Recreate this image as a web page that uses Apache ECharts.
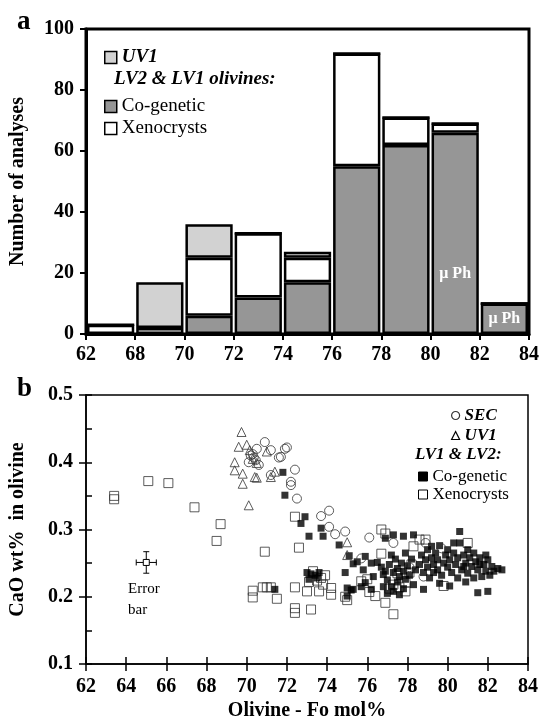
<!DOCTYPE html>
<html>
<head>
<meta charset="utf-8">
<script src="https://cdn.jsdelivr.net/npm/echarts@6/dist/echarts.min.js"></script>
<style>
html, body { margin: 0; padding: 0; background: #fff; }
#main { width: 542px; height: 727px; }
</style>
</head>
<body>
<div id="main"></div>
<script>
// panel a: histogram, bins 62-68, 68-70 ... 82-84
var binEdges = ['62', '68', '70', '72', '74', '76', '78', '80', '82', '84'];
var binNames = ['62-68', '68-70', '70-72', '72-74', '74-76', '76-78', '78-80', '80-82', '82-84'];
var cogeneticCounts = [0, 0, 6, 12, 17, 55, 62, 66, 10];
var xenocrystCounts = [3, 2, 19, 21, 8, 37, 9, 3, 0];
var uv1Counts = [0, 15, 11, 0, 2, 0, 0, 0, 0];
var muPhBins = [7, 8];

// panel b: CaO vs Fo
var secPoints = [
  [70.9, 0.430], [70.5, 0.420], [71.2, 0.418], [71.6, 0.407], [71.9, 0.420], [70.35, 0.407],
  [70.1, 0.400], [70.6, 0.396], [70.3, 0.412], [70.2, 0.410], [70.45, 0.403], [71.2, 0.381],
  [72.2, 0.371], [72.2, 0.366], [72.4, 0.389], [72.5, 0.346], [72.0, 0.422], [71.7, 0.408],
  [73.7, 0.320], [74.1, 0.328], [74.1, 0.304], [74.4, 0.293], [74.9, 0.297], [75.7, 0.257],
  [76.1, 0.288], [77.3, 0.280], [78.1, 0.244], [78.8, 0.230], [78.9, 0.280], [79.7, 0.272]
];
var uv1Points = [
  [69.74, 0.445], [69.6, 0.423], [70.0, 0.426], [70.15, 0.418], [69.4, 0.400], [69.4, 0.388],
  [69.8, 0.383], [69.8, 0.368], [70.4, 0.378], [70.1, 0.336], [70.5, 0.399], [70.3, 0.405],
  [71.0, 0.416], [71.2, 0.378], [71.4, 0.386], [70.5, 0.377], [75.0, 0.281], [75.0, 0.262]
];
var cogeneticPoints = [
  [71.8, 0.385], [71.9, 0.351], [72.9, 0.319], [72.7, 0.309], [73.1, 0.290], [73.8, 0.290],
  [73.7, 0.302], [74.6, 0.277], [75.1, 0.261], [75.3, 0.249], [75.5, 0.252], [75.9, 0.260],
  [74.9, 0.236], [73.0, 0.236], [73.2, 0.234], [73.4, 0.232], [73.6, 0.236], [73.1, 0.226],
  [73.5, 0.228], [75.0, 0.213], [75.2, 0.210], [75.0, 0.201], [75.3, 0.211], [75.7, 0.215],
  [75.9, 0.221], [76.2, 0.211], [75.8, 0.240], [76.3, 0.230], [76.2, 0.250], [76.5, 0.251],
  [76.8, 0.233], [76.9, 0.287], [77.3, 0.292], [77.8, 0.290], [78.3, 0.292], [71.4, 0.211],
  [76.7, 0.244], [76.9, 0.238], [77.0, 0.225], [77.1, 0.248], [77.2, 0.215], [77.3, 0.236],
  [77.4, 0.256], [77.5, 0.222], [77.5, 0.242], [77.6, 0.230], [77.7, 0.250], [77.8, 0.212],
  [77.8, 0.238], [77.9, 0.226], [78.0, 0.246], [78.1, 0.232], [78.2, 0.256], [78.3, 0.218],
  [77.0, 0.205], [77.3, 0.208], [77.6, 0.203], [76.8, 0.215], [77.2, 0.262], [77.9, 0.265],
  [78.4, 0.240], [78.6, 0.248], [78.7, 0.262], [78.8, 0.236], [78.9, 0.255], [79.0, 0.270],
  [79.0, 0.244], [79.1, 0.228], [79.2, 0.258], [79.3, 0.248], [79.4, 0.265], [79.5, 0.240],
  [79.5, 0.255], [79.6, 0.276], [79.7, 0.232], [79.8, 0.250], [79.9, 0.262], [80.0, 0.244],
  [80.0, 0.270], [80.1, 0.255], [80.2, 0.236], [80.3, 0.265], [80.4, 0.248], [80.5, 0.258],
  [80.5, 0.228], [80.6, 0.297], [80.6, 0.280], [80.7, 0.240], [80.8, 0.262], [80.9, 0.250],
  [81.0, 0.235], [81.1, 0.258], [81.2, 0.245], [81.3, 0.265], [81.3, 0.228], [81.4, 0.252],
  [81.5, 0.240], [81.6, 0.258], [81.7, 0.230], [81.8, 0.248], [81.9, 0.238], [82.0, 0.255],
  [82.1, 0.232], [82.2, 0.245], [82.3, 0.238], [82.5, 0.242], [82.7, 0.240], [81.5, 0.206],
  [82.0, 0.208], [80.1, 0.216], [78.8, 0.211], [79.2, 0.275], [80.3, 0.280], [81.0, 0.270],
  [81.9, 0.262], [79.6, 0.220], [80.9, 0.222], [79.3, 0.236], [80.8, 0.245], [81.6, 0.248]
];
var xenocrystPoints = [
  [63.4, 0.350], [63.4, 0.345], [65.1, 0.372], [66.1, 0.369], [67.4, 0.333], [68.7, 0.308],
  [68.5, 0.283], [70.9, 0.267], [70.3, 0.209], [70.3, 0.199], [70.8, 0.214], [71.0, 0.214],
  [71.2, 0.214], [71.5, 0.197], [72.4, 0.214], [72.4, 0.319], [72.6, 0.273], [72.4, 0.183],
  [72.4, 0.176], [73.0, 0.208], [73.6, 0.208], [74.2, 0.213], [74.2, 0.203], [73.2, 0.181],
  [73.1, 0.222], [73.3, 0.238], [73.5, 0.224], [73.7, 0.228], [73.8, 0.218], [73.9, 0.232],
  [74.9, 0.200], [75.0, 0.195], [75.7, 0.223], [76.1, 0.207], [76.4, 0.201], [76.7, 0.264],
  [76.7, 0.300], [76.9, 0.294], [76.9, 0.191], [77.3, 0.174], [77.1, 0.212], [77.3, 0.218],
  [77.6, 0.214], [77.9, 0.208], [77.9, 0.221], [78.1, 0.236], [78.2, 0.248], [78.3, 0.275],
  [78.6, 0.285], [78.9, 0.285], [79.8, 0.216], [81.0, 0.280], [76.0, 0.226], [77.5, 0.235]
];
// x, y, half-width in Fo, half-height in CaO
var errorBar = [[65.0, 0.251, 0.5, 0.016]];

var serif = 'Liberation Serif';
var LIGHT = '#d2d2d2';
var MID = '#969696';

var chart = echarts.init(document.getElementById('main'));

function axisFont(size) {
  return { fontFamily: serif, fontSize: size, fontWeight: 'bold', color: '#000' };
}

var cogenData = cogeneticCounts.map(function (v, i) {
  if (muPhBins.indexOf(i) < 0) return v;
  return {
    value: v,
    label: {
      show: true,
      formatter: 'μ Ph',
      position: i === 7 ? 'insideBottom' : 'inside',
      distance: 52,
      color: '#fff',
      fontFamily: serif,
      fontWeight: 'bold',
      fontSize: 16
    }
  };
});

var barStyle = function (c) {
  return { color: c, borderColor: '#000', borderWidth: 2.5 };
};

var option = {
  animation: false,
  grid: [
    { left: 83, top: 29, right: 10, bottom: 393, show: true, borderColor: '#000', borderWidth: 3, backgroundColor: 'transparent' },
    { left: 83, top: 395, right: 14, bottom: 63, show: true, borderColor: '#000', borderWidth: 1.5, backgroundColor: 'transparent' }
  ],
  xAxis: [
    { type: 'category', gridIndex: 0, data: binNames, show: false },
    {
      type: 'value', gridIndex: 0, min: 0, max: 9, interval: 1, position: 'bottom',
      axisLine: { lineStyle: { color: '#000', width: 3 } },
      axisTick: { length: 6, lineStyle: { color: '#000', width: 2 } },
      axisLabel: Object.assign({ margin: 11, formatter: function (v) { return binEdges[v]; } }, axisFont(20)),
      splitLine: { show: false }
    },
    {
      type: 'value', gridIndex: 1, min: 62, max: 84, interval: 2, position: 'bottom',
      name: 'Olivine - Fo mol%', nameLocation: 'middle', nameGap: 37,
      nameTextStyle: axisFont(20),
      axisLine: { lineStyle: { color: '#000', width: 1.5 } },
      axisTick: { length: 7, lineStyle: { color: '#000', width: 1.5 } },
      axisLabel: Object.assign({ margin: 13 }, axisFont(20)),
      splitLine: { show: false }
    },
    {
      type: 'value', gridIndex: 1, min: 62, max: 84, interval: 2, position: 'bottom',
      axisLine: { show: false },
      axisTick: { inside: true, length: 7, lineStyle: { color: '#000', width: 1.5 } },
      axisLabel: { show: false },
      splitLine: { show: false }
    }
  ],
  yAxis: [
    {
      type: 'value', gridIndex: 0, min: 0, max: 100, interval: 20,
      name: 'Number of analyses', nameLocation: 'middle', nameGap: 58,
      nameTextStyle: axisFont(20),
      axisLine: { show: true, lineStyle: { color: '#000', width: 3 } },
      axisTick: { show: true, length: 6, lineStyle: { color: '#000', width: 2 } },
      axisLabel: Object.assign({ margin: 12 }, axisFont(20)),
      splitLine: { show: false }
    },
    {
      type: 'value', gridIndex: 1, min: 0.1, max: 0.5, interval: 0.1,
      name: 'CaO wt%  in olivine', nameLocation: 'middle', nameGap: 58,
      nameTextStyle: axisFont(20),
      axisLine: { show: true, lineStyle: { color: '#000', width: 1.5 } },
      axisTick: { show: true, length: 7, lineStyle: { color: '#000', width: 1.5 } },
      axisLabel: Object.assign({ margin: 13, formatter: function (v) { return v.toFixed(1); } }, axisFont(20)),
      splitLine: { show: false }
    },
    {
      type: 'value', gridIndex: 1, min: 0.1, max: 0.5, interval: 0.05, position: 'left',
      axisLine: { show: false },
      axisTick: { show: true, inside: true, length: 6, lineStyle: { color: '#000', width: 1.5 } },
      axisLabel: { show: false },
      splitLine: { show: false }
    }
  ],
  legend: [
    {
      left: 99, top: 43, itemWidth: 12, itemHeight: 12, itemGap: 3, selectedMode: false,
      data: [{ name: 'UV1', icon: 'rect', itemStyle: { color: LIGHT, borderColor: '#000', borderWidth: 1.5 } }],
      textStyle: { fontFamily: serif, fontSize: 19, fontWeight: 'bold', fontStyle: 'italic', color: '#000' }
    },
    {
      left: 99, top: 92, orient: 'vertical', itemWidth: 12, itemHeight: 12, itemGap: 3, selectedMode: false,
      data: [
        { name: 'Co-genetic', icon: 'rect', itemStyle: { color: MID, borderColor: '#000', borderWidth: 1.5 } },
        { name: 'Xenocrysts', icon: 'rect', itemStyle: { color: '#fff', borderColor: '#000', borderWidth: 1.5 } }
      ],
      textStyle: { fontFamily: serif, fontSize: 19, color: '#000' }
    },
    {
      left: 446, top: 402, orient: 'vertical', itemWidth: 8, itemHeight: 8, itemGap: 3, selectedMode: false,
      data: [
        { name: 'SEC', icon: 'circle', itemStyle: { color: '#fff', borderColor: '#000', borderWidth: 1.2 } },
        { name: 'UV1', icon: 'triangle', itemStyle: { color: '#fff', borderColor: '#000', borderWidth: 1.2 } }
      ],
      textStyle: { fontFamily: serif, fontSize: 17, fontWeight: 'bold', fontStyle: 'italic', color: '#000' }
    },
    {
      left: 413, top: 463, orient: 'vertical', itemWidth: 9, itemHeight: 9, itemGap: 1, selectedMode: false,
      data: [
        { name: 'Co-genetic', icon: 'rect', itemStyle: { color: '#000', borderColor: '#000', borderWidth: 1 } },
        { name: 'Xenocrysts', icon: 'rect', itemStyle: { color: '#fff', borderColor: '#000', borderWidth: 1 } }
      ],
      textStyle: { fontFamily: serif, fontSize: 17, color: '#000' }
    }
  ],
  graphic: [
    { type: 'text', left: 17, top: 9, style: { text: 'a', font: 'bold 27px "Liberation Serif"', fill: '#000' } },
    { type: 'text', left: 17, top: 376, style: { text: 'b', font: 'bold 27px "Liberation Serif"', fill: '#000' } },
    { type: 'text', left: 114, top: 70, style: { text: 'LV2 & LV1 olivines:', font: 'italic bold 19px "Liberation Serif"', fill: '#000' } },
    { type: 'text', left: 415, top: 446, style: { text: 'LV1 & LV2:', font: 'italic bold 17px "Liberation Serif"', fill: '#000' } },
    { type: 'text', left: 128, top: 579, style: { text: 'Error\nbar', font: '15px "Liberation Serif"', lineHeight: 21, fill: '#000' } }
  ],
  series: [
    { name: 'Co-genetic', type: 'bar', stack: 'a', xAxisIndex: 0, yAxisIndex: 0, barCategoryGap: '4%', data: cogenData, itemStyle: barStyle(MID) },
    { name: 'Xenocrysts', type: 'bar', stack: 'a', xAxisIndex: 0, yAxisIndex: 0, data: xenocrystCounts, itemStyle: barStyle('#fff') },
    { name: 'UV1', type: 'bar', stack: 'a', xAxisIndex: 0, yAxisIndex: 0, data: uv1Counts, itemStyle: barStyle(LIGHT) },

    {
      name: 'Xenocrysts', type: 'scatter', xAxisIndex: 2, yAxisIndex: 1, symbol: 'rect', symbolSize: 9,
      data: xenocrystPoints, itemStyle: { color: 'rgba(255,255,255,0)', borderColor: '#333', borderWidth: 1 }
    },
    {
      name: 'Co-genetic', type: 'scatter', xAxisIndex: 2, yAxisIndex: 1, symbol: 'rect', symbolSize: 7,
      data: cogeneticPoints, itemStyle: { color: '#000' }
    },
    {
      name: 'UV1', type: 'scatter', xAxisIndex: 2, yAxisIndex: 1, symbol: 'triangle', symbolSize: 9,
      data: uv1Points, itemStyle: { color: 'rgba(255,255,255,0)', borderColor: '#333', borderWidth: 1 }
    },
    {
      name: 'SEC', type: 'scatter', xAxisIndex: 2, yAxisIndex: 1, symbol: 'circle', symbolSize: 9,
      data: secPoints, itemStyle: { color: 'rgba(255,255,255,0)', borderColor: '#333', borderWidth: 1 }
    },
    {
      name: 'Error', type: 'custom', xAxisIndex: 2, yAxisIndex: 1, data: errorBar,
      renderItem: function (params, api) {
        var x = api.value(0), y = api.value(1), dx = api.value(2), dy = api.value(3);
        var c = api.coord([x, y]);
        var l = api.coord([x - dx, y]), r = api.coord([x + dx, y]);
        var t = api.coord([x, y + dy]), b = api.coord([x, y - dy]);
        var st = { stroke: '#000', lineWidth: 1 };
        return {
          type: 'group',
          children: [
            { type: 'line', shape: { x1: l[0], y1: l[1], x2: r[0], y2: r[1] }, style: st },
            { type: 'line', shape: { x1: t[0], y1: t[1], x2: b[0], y2: b[1] }, style: st },
            { type: 'line', shape: { x1: l[0], y1: l[1] - 3, x2: l[0], y2: l[1] + 3 }, style: st },
            { type: 'line', shape: { x1: r[0], y1: r[1] - 3, x2: r[0], y2: r[1] + 3 }, style: st },
            { type: 'line', shape: { x1: t[0] - 3, y1: t[1], x2: t[0] + 3, y2: t[1] }, style: st },
            { type: 'line', shape: { x1: b[0] - 3, y1: b[1], x2: b[0] + 3, y2: b[1] }, style: st },
            { type: 'rect', shape: { x: c[0] - 3, y: c[1] - 3, width: 6, height: 6 }, style: { fill: '#fff', stroke: '#000', lineWidth: 1 } }
          ]
        };
      }
    }
  ]
};

chart.setOption(option);
</script>
</body>
</html>
